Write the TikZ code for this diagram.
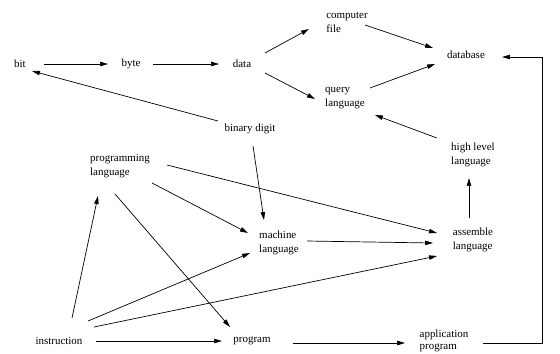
\documentclass[tikz,border=0pt]{standalone}
\usepackage{fontspec}
\setmainfont{Liberation Serif}
\usetikzlibrary{arrows.meta}
\begin{document}
\begin{tikzpicture}[x=1bp,y=-1bp,>={Triangle[length=8pt,width=4.5pt]}]
		\tikzstyle{every node}=[font=\fontsize{11}{14}\selectfont, inner sep=0pt, align=left]
		\tikzstyle{link}=[->, line width=0.7pt]
		\useasboundingbox (0,0) rectangle (560,353);
		% terms
		\node (bit) at (20,64) {bit};
		\node (byte) at (131,64) {byte};
		\node (data) at (242,64) {data};
		\node (cfile) at (347,22) {computer\\file};
		\node (db) at (466,55) {database};
		\node (qlang) at (345,98) {query\\language};
		\node (bdigit) at (250,129) {binary digit};
		\node (hll) at (473,155) {high level\\language};
		\node (plang) at (120,166) {programming\\language};
		\node (mlang) at (279,243) {machine\\language};
		\node (asm) at (473,240) {assemble\\language};
		\node (instr) at (59,341) {instruction};
		\node (prog) at (252,341) {program};
		\node [font=\fontsize{11}{12}\selectfont] (app) at (444,341) {application\\program};
		% links
		\draw [link] ([shift={(24,0)}]bit.center) -- ([shift={(-23,0)}]byte.center);
		\draw [link] ([shift={(22,0)}]byte.center) -- ([shift={(-23,0)}]data.center);
		\draw [link] ([shift={(23,-11)}]data.center) -- ([shift={(-38,7)}]cfile.center);
		\draw [link] ([shift={(23,9)}]data.center) -- ([shift={(-30,1)}]qlang.center);
		\draw [link] ([shift={(18,3)}]cfile.center) -- ([shift={(-33,-7)}]db.center);
		\draw [link] ([shift={(25,-10)}]qlang.center) -- ([shift={(-31,9)}]db.center);
		\draw [link] ([shift={(-32,-8)}]bdigit.center) -- ([shift={(12,7)}]bit.center);
		\draw [link] ([shift={(-36,-17)}]hll.center) -- ([shift={(30,17)}]qlang.center);
		\draw [link] ([shift={(-4,-22)}]asm.center) -- ([shift={(-4,23)}]hll.center);
		\draw [link] ([shift={(39,2)}]app.center) -- ++(59,0) |- ([shift={(36,2)}]db.center);
		\draw [link] ([shift={(3,17)}]bdigit.center) -- ([shift={(-15,-23)}]mlang.center);
		\draw [link] ([shift={(32,17)}]plang.center) -- ([shift={(-31,-10)}]mlang.center);
		\draw [link] ([shift={(47,-1)}]plang.center) -- ([shift={(-36,-7)}]asm.center);
		\draw [link] ([shift={(13,-23)}]instr.center) -- ([shift={(-22,30)}]plang.center);
		\draw [link] ([shift={(-5,28)}]plang.center) -- ([shift={(-22,-14)}]prog.center);
		\draw [link] ([shift={(29,-20)}]instr.center) -- ([shift={(-29,10)}]mlang.center);
		\draw [link] ([shift={(35,-14)}]instr.center) -- ([shift={(-36,16)}]asm.center);
		\draw [link] ([shift={(37,0)}]instr.center) -- ([shift={(-30,0)}]prog.center);
		\draw [link] ([shift={(28,-2)}]mlang.center) -- ([shift={(-40,3)}]asm.center);
		\draw [link] ([shift={(41,2)}]prog.center) -- ([shift={(-39,2)}]app.center);
	\end{tikzpicture}
\end{document}
